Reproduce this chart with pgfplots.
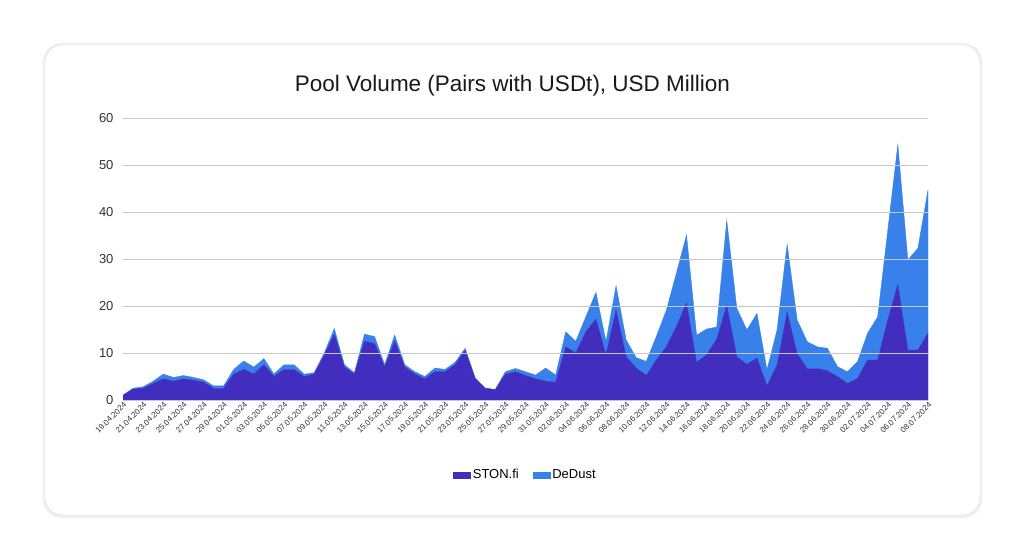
\documentclass[border=0pt]{standalone}
\usepackage{pgfplots}
\pgfplotsset{compat=1.18}
\usepackage{pgfplotstable}
\usepackage{fontspec}
\setmainfont{Liberation Sans}
\definecolor{ston}{RGB}{66,46,190}
\definecolor{dedust}{RGB}{56,128,234}
\pgfplotstableread{
x ston dedust
0 1 0
1 2.3 0.2
2 2.5 0.3
3 3.5 0.5
4 4.5 1
5 4 0.8
6 4.5 0.7
7 4.2 0.6
8 3.8 0.5
9 2.5 0.5
10 2.5 0.5
11 5.5 1
12 6.5 1.8
13 5.5 1.5
14 7.5 1.3
15 5 0.5
16 6.5 1
17 6.5 1
18 5 0.5
19 5.5 0.3
20 9.5 0.5
21 14 1.2
22 7 0.5
23 5.5 0.3
24 12.5 1.5
25 12 1.5
26 7 0.5
27 12.5 1.3
28 7 0.5
29 5.5 0.5
30 4.5 0.5
31 6 0.8
32 6 0.5
33 7.5 0.5
34 10.5 0.5
35 4.5 0.2
36 2.5 0
37 2.2 0
38 5.5 0.5
39 6 0.7
40 5.2 0.8
41 4.5 0.8
42 4.0 2.8
43 3.8 1.5
44 11.3 3.2
45 10 2.5
46 14.5 3.2
47 17.2 5.7
48 9.6 2.8
49 19.1 5.2
50 9.2 3.6
51 6.8 2.2
52 5.2 3
53 8.5 5
54 11.3 7.8
55 15.6 11.4
56 20.6 14.5
57 8 5.8
58 9.6 5.5
59 12.9 2.6
60 20.1 18.1
61 9.2 10.3
62 7.6 7.3
63 8.9 9.5
64 3 3.4
65 7.4 7.5
66 18.7 14.4
67 9.8 7.2
68 6.7 5.7
69 6.7 4.6
70 6.2 4.8
71 5 2.1
72 3.5 2.5
73 4.6 3.6
74 8.5 5.7
75 8.5 9.2
76 17 19
77 24.5 29.8
78 10.6 19.2
79 10.6 21.7
80 14.2 30.5
}\data
\begin{document}
\begin{tikzpicture}[x=1pt,y=1pt]
\fill[white] (-123,-159) rectangle (901,400);
\fill[black!6,rounded corners=18] (-80,-118) rectangle (859,357);
\fill[white,rounded corners=18,draw=black!12] (-78,-115) rectangle (857,355);
\begin{axis}[
  at={(0,0)}, anchor=south west,
  scale only axis, width=805pt, height=282pt,
  xmin=0, xmax=80, ymin=0, ymax=60,
  ytick={0,10,...,60},
  ymajorgrids, grid style={black!22, line width=0.6pt},
  axis line style={draw=none},
  major tick length=0pt,
  tick label style={font=\fontsize{13}{14}\selectfont, text=black!80},
  /pgf/number format/assume math mode=true,
  xtick={0,2,...,80},
  xticklabels={19.04.2024,21.04.2024,23.04.2024,25.04.2024,27.04.2024,29.04.2024,01.05.2024,03.05.2024,05.05.2024,07.05.2024,09.05.2024,11.05.2024,13.05.2024,15.05.2024,17.05.2024,19.05.2024,21.05.2024,23.05.2024,25.05.2024,27.05.2024,29.05.2024,31.05.2024,02.06.2024,04.06.2024,06.06.2024,08.06.2024,10.06.2024,12.06.2024,14.06.2024,16.06.2024,18.06.2024,20.06.2024,22.06.2024,24.06.2024,26.06.2024,28.06.2024,30.06.2024,02.07.2024,04.07.2024,06.07.2024,08.07.2024},
  xticklabel style={font=\fontsize{8}{9}\selectfont, rotate=45, anchor=north east, inner sep=1pt},
  yticklabel style={xshift=-6pt},
  stack plots=y,
  title={Pool Volume (Pairs with USDt), USD Million},
  title style={font=\fontsize{22.5}{24}\selectfont, text=black!90, yshift=12pt, xshift=-13pt},
  legend style={at={(0.5,-0.266)}, anchor=center, draw=none, legend columns=-1, font=\fontsize{13}{14}\selectfont, /tikz/every even column/.append style={column sep=12pt}},
  legend image code/.code={\fill[#1] (2pt,-4pt) rectangle (10pt,4pt);},
  area style,
]
\addplot[fill=ston, draw=ston] table[x=x,y=ston]{\data} \closedcycle;
\addlegendentry{STON.fi}
\addplot[fill=dedust, draw=dedust] table[x=x,y=dedust]{\data} \closedcycle;
\addlegendentry{DeDust}
\end{axis}
\end{tikzpicture}
\end{document}
